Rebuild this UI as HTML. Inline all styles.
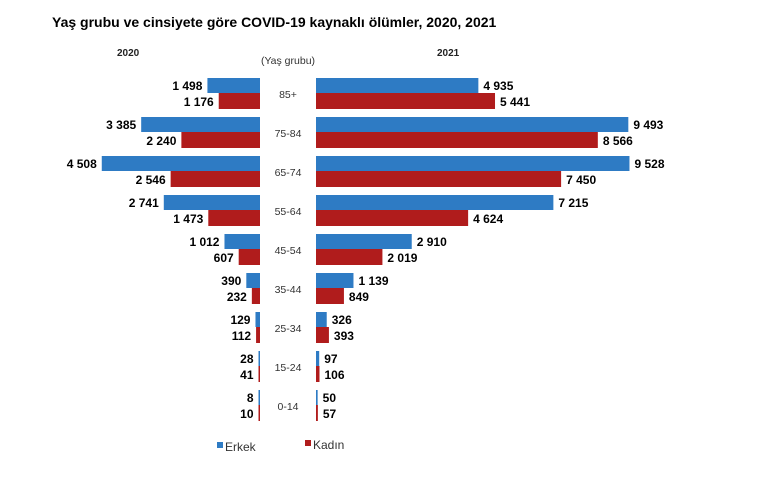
<!DOCTYPE html>
<html><head><meta charset="utf-8"><style>
body{margin:0;background:#fff;font-family:"Liberation Sans",Arial,sans-serif;}
</style></head><body>
<svg width="770" height="472" xmlns="http://www.w3.org/2000/svg" font-family="Liberation Sans, Arial, sans-serif">
<rect width="770" height="472" fill="#fff"/>
<text x="52" y="27" font-size="14" font-weight="bold" fill="#000">Yaş grubu ve cinsiyete göre COVID-19 kaynaklı ölümler, 2020, 2021</text>
<text x="117" y="56" font-size="10" font-weight="bold" fill="#222">2020</text>
<text x="437" y="56" font-size="10" font-weight="bold" fill="#222">2021</text>
<text x="288" y="64" font-size="10.5" fill="#333" text-anchor="middle">(Yaş grubu)</text>
<g id="bars"></g>
<rect x="217" y="442" width="6" height="6" fill="#2e7bc4"/>
<text x="225" y="451" font-size="12" fill="#333">Erkek</text>
<rect x="305" y="440" width="6" height="6" fill="#b01c1c"/>
<text x="313" y="449" font-size="12" fill="#333">Kadın</text>
</svg>
<script>
var d=[["85+",1498,1176,4935,5441],["75-84",3385,2240,9493,8566],["65-74",4508,2546,9528,7450],["55-64",2741,1473,7215,4624],["45-54",1012,607,2910,2019],["35-44",390,232,1139,849],["25-34",129,112,326,393],["15-24",28,41,97,106],["0-14",8,10,50,57]];
var g=document.getElementById("bars"),s="";
function f(n){return n>=1000?Math.floor(n/1000)+" "+String(n%1000).padStart(3,"0"):""+n;}
var L=260,R=316,kl=0.0351,kr=0.0329;
d.forEach(function(r,i){
 var y=78+i*39;
 var w1=Math.max(r[1]*kl,1.5),w2=Math.max(r[2]*kl,1.5),w3=Math.max(r[3]*kr,1.5),w4=Math.max(r[4]*kr,1.5);
 s+='<rect x="'+(L-w1)+'" y="'+y+'" width="'+w1+'" height="15" fill="#2e7bc4"/>';
 s+='<rect x="'+(L-w2)+'" y="'+(y+15)+'" width="'+w2+'" height="16" fill="#b01c1c"/>';
 s+='<rect x="'+R+'" y="'+y+'" width="'+w3+'" height="15" fill="#2e7bc4"/>';
 s+='<rect x="'+R+'" y="'+(y+15)+'" width="'+w4+'" height="16" fill="#b01c1c"/>';
 s+='<text x="'+(L-w1-5)+'" y="'+(y+12)+'" font-size="12" font-weight="bold" text-anchor="end">'+f(r[1])+'</text>';
 s+='<text x="'+(L-w2-5)+'" y="'+(y+28)+'" font-size="12" font-weight="bold" text-anchor="end">'+f(r[2])+'</text>';
 s+='<text x="'+(R+w3+5)+'" y="'+(y+12)+'" font-size="12" font-weight="bold">'+f(r[3])+'</text>';
 s+='<text x="'+(R+w4+5)+'" y="'+(y+28)+'" font-size="12" font-weight="bold">'+f(r[4])+'</text>';
 s+='<text x="288" y="'+(y+20)+'" font-size="10.5" fill="#333" text-anchor="middle">'+r[0]+'</text>';
});
g.innerHTML=s;
</script>
</body></html>
